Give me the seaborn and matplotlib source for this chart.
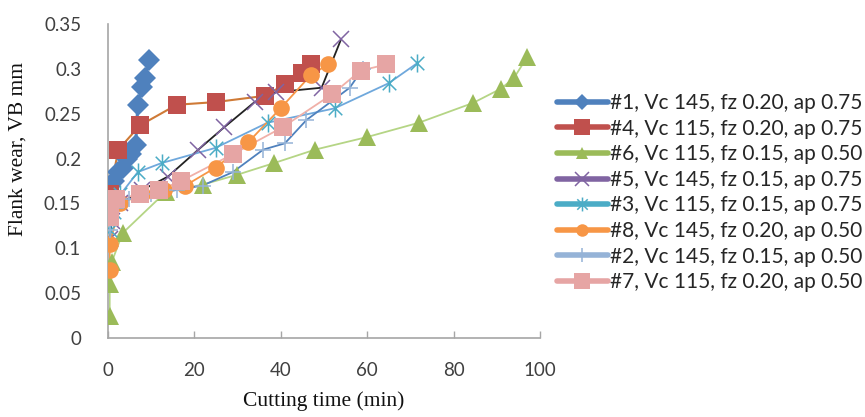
import matplotlib
matplotlib.use("Agg")
import matplotlib.pyplot as plt
from matplotlib.lines import Line2D
from matplotlib.path import Path
import seaborn as sns
import pandas as pd

# ---- data ----
labels = ["#1, Vc 145, fz 0.20, ap 0.75", "#4, Vc 115, fz 0.20, ap 0.75",
          "#6, Vc 115, fz 0.15, ap 0.50", "#5, Vc 145, fz 0.15, ap 0.75",
          "#3, Vc 115, fz 0.15, ap 0.75", "#8, Vc 145, fz 0.20, ap 0.50",
          "#2, Vc 145, fz 0.15, ap 0.50", "#7, Vc 115, fz 0.20, ap 0.50"]

t1 = [0.5, 1.5, 2.5, 3.5, 4.5, 5.5, 6.5, 7, 8, 8.7, 9.5]
vb1 = [0.17, 0.175, 0.185, 0.19, 0.2, 0.205, 0.215, 0.26, 0.28, 0.29, 0.31]

t4 = [0.5, 2.5, 7.5, 16, 25, 36.5, 41, 45, 47]
vb4 = [0.16, 0.21, 0.237, 0.26, 0.263, 0.27, 0.283, 0.295, 0.305]

t6 = [0.5, 0.5, 1, 3.5, 13.5, 22, 30, 38.5, 48, 60, 72, 84.5, 91, 94, 97]
vb6 = [0.025, 0.06, 0.085, 0.117, 0.163, 0.171, 0.182, 0.195, 0.21, 0.224,
       0.24, 0.262, 0.278, 0.29, 0.313]

t5 = [0.5, 1, 3, 8, 14, 21, 27, 34, 39, 49.5, 54]
vb5 = [0.11, 0.13, 0.15, 0.165, 0.18, 0.21, 0.235, 0.263, 0.274, 0.279, 0.333]

t3 = [0.5, 1.5, 3, 7, 12.5, 25, 37, 52.5, 65, 71.5]
vb3 = [0.12, 0.14, 0.16, 0.185, 0.195, 0.212, 0.24, 0.256, 0.284, 0.306]

t8 = [0.5, 0.5, 3, 8, 13, 18, 25, 32.5, 40, 47, 51]
vb8 = [0.076, 0.105, 0.15, 0.16, 0.165, 0.17, 0.19, 0.218, 0.256, 0.293, 0.305]

t2 = [0.5, 2, 5, 10, 16, 22, 29, 36, 41, 46, 56, 59]
vb2 = [0.12, 0.145, 0.155, 0.16, 0.165, 0.17, 0.185, 0.21, 0.217, 0.243, 0.279, 0.3]

t7 = [0.5, 2, 7.5, 12, 17, 29, 40.5, 52, 58.5, 64.5]
vb7 = [0.135, 0.155, 0.16, 0.165, 0.175, 0.205, 0.235, 0.272, 0.298, 0.305]

xticks = [0, 20, 40, 60, 80, 100]
yticks = [0, 0.05, 0.1, 0.15, 0.2, 0.25, 0.3, 0.35]
ytick_labels = ["0", "0.05", "0.1", "0.15", "0.2", "0.25", "0.3", "0.35"]

# ---- styles ----
asterisk = Path([(0, -1), (0, 1), (-0.75, -0.75), (0.75, 0.75), (-0.75, 0.75), (0.75, -0.75)],
                [Path.MOVETO, Path.LINETO, Path.MOVETO, Path.LINETO, Path.MOVETO, Path.LINETO])

series = [
    (t1, vb1, "#4F81BD", "#4F81BD", "D", 11, 2.2),
    (t4, vb4, "#C0504D", "#CF7A36", "s", 13, 1.5),
    (t6, vb6, "#9BBB59", "#B5D585", "^", 13, 1.3),
    (t5, vb5, "#8064A2", "#222222", "x", 11, 1.3),
    (t3, vb3, "#4BACC6", "#6FA8DC", asterisk, 13, 1.3),
    (t8, vb8, "#F79646", "#F79646", "o", 12, 1.3),
    (t2, vb2, "#95B3D7", "#4F81BD", "+", 12, 1.3),
    (t7, vb7, "#E6A5A4", "#F0B0A8", "s", 13, 1.3),
]
legend_ms = [8, 11, 9, 10, 10, 9, 10, 11]

sns.set_theme(style="white")
plt.rcParams["font.family"] = ["Lato", "DejaVu Sans"]

fig = plt.figure(figsize=(8.65, 4.17), dpi=100)
ax = fig.add_axes([0.1243, 0.1894, 0.5, 0.753])

for (t, vb, mc, lc, mk, ms, lw), lab in zip(series, labels):
    df = pd.DataFrame({"t": t, "vb": vb})
    sns.lineplot(data=df, x="t", y="vb", ax=ax, estimator=None, sort=False,
                 color=lc, lw=lw, legend=False)
    if mk in ("x", "+") or mk is asterisk:
        ax.plot(t, vb, ls="none", marker=mk, ms=ms, mec=mc, mew=1.1, mfc="none", zorder=3)
    else:
        ax.plot(t, vb, ls="none", marker=mk, ms=ms, mec=mc, mfc=mc, mew=0, zorder=3)

ax.set_xlim(0, 100)
ax.set_ylim(0, 0.35)
ax.set_xticks(xticks)
ax.set_yticks(yticks)
ax.set_yticklabels(ytick_labels)
for s in ("top", "right"):
    ax.spines[s].set_visible(False)
for s in ("left", "bottom"):
    ax.spines[s].set_color("#A6A6A6")
    ax.spines[s].set_linewidth(1.2)
ax.tick_params(axis="x", direction="in", length=5, width=1, color="#A6A6A6",
               pad=17, labelsize=13.5, labelcolor="#404040", bottom=True)
ax.tick_params(axis="y", length=0, pad=19, labelsize=13.5, labelcolor="#404040")
ax.set_xlabel("Cutting time (min)", family="Liberation Serif", fontsize=15.5,
              color="#111111", labelpad=9)
ax.set_ylabel("Flank wear, VB mm", family="Liberation Serif", fontsize=15.5,
              color="#111111")
ax.yaxis.set_label_coords(-0.186, 0.602)

handles = []
for (t, vb, mc, lc, mk, ms, lw), lms in zip(series, legend_ms):
    if mk in ("x", "+") or mk is asterisk:
        h = Line2D([], [], color=mc, lw=4, marker=mk, ms=lms, mec=mc, mew=1.1, mfc="none")
    else:
        h = Line2D([], [], color=mc, lw=4, marker=mk, ms=lms, mec=mc, mfc=mc, mew=0)
    handles.append(h)
leg = fig.legend(handles, labels, loc="upper left", bbox_to_anchor=(0.634, 0.797),
                 frameon=False, fontsize=15, handlelength=2.45, handletextpad=0.1,
                 labelspacing=0.27, borderaxespad=0)
for txt in leg.get_texts():
    txt.set_color("#262626")

fig.savefig("out.png", dpi=100)
